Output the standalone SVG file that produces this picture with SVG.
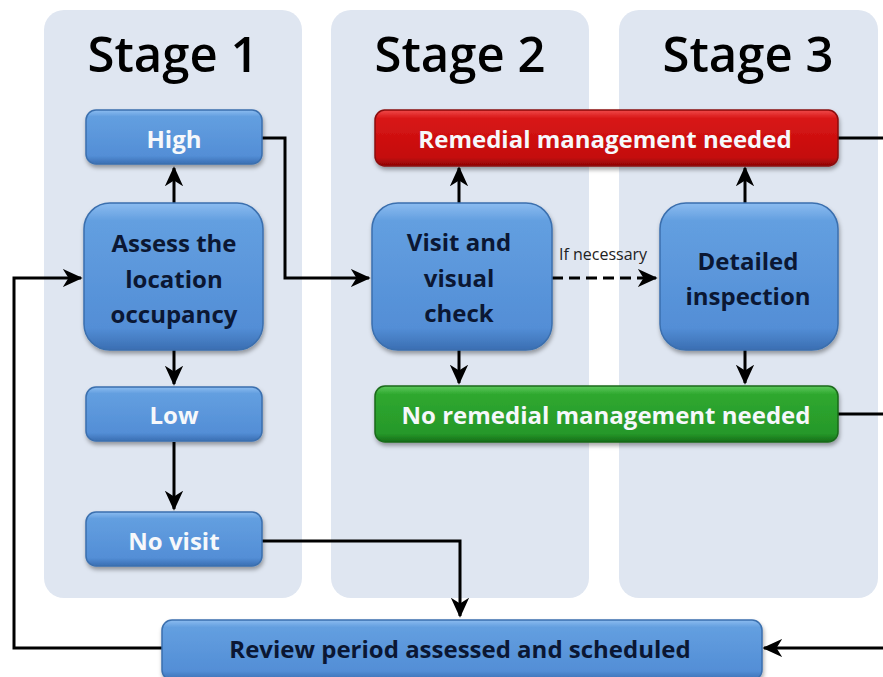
<svg xmlns="http://www.w3.org/2000/svg" width="883" height="677" viewBox="0 0 883 677">
<defs>
<linearGradient id="gBlue" x1="0" y1="0" x2="0" y2="1">
<stop offset="0" stop-color="#8cbcf0"/><stop offset="0.12" stop-color="#639fe0"/><stop offset="0.85" stop-color="#538ed6"/><stop offset="1" stop-color="#3a6eb2"/>
</linearGradient>
<linearGradient id="gRed" x1="0" y1="0" x2="0" y2="1">
<stop offset="0" stop-color="#f04a4a"/><stop offset="0.15" stop-color="#d81515"/><stop offset="0.85" stop-color="#c40c0c"/><stop offset="1" stop-color="#8e0404"/>
</linearGradient>
<linearGradient id="gGreen" x1="0" y1="0" x2="0" y2="1">
<stop offset="0" stop-color="#5cc95c"/><stop offset="0.15" stop-color="#2fa82f"/><stop offset="0.85" stop-color="#26982a"/><stop offset="1" stop-color="#166e18"/>
</linearGradient>
<filter id="sh" x="-10%" y="-10%" width="120%" height="130%">
<feDropShadow dx="1" dy="3" stdDeviation="2" flood-color="#000" flood-opacity="0.35"/>
</filter>
<marker id="a" viewBox="0 0 12 12" refX="11" refY="6" markerWidth="20" markerHeight="20" markerUnits="userSpaceOnUse" orient="auto">
<path d="M0,0.5 L12,6 L0,11.5 L3.5,6 Z" fill="#000"/>
</marker>
</defs>
<style>
.panel{fill:#dfe6f1}
.title{font-family:"Open Sans","Noto Sans",sans-serif;font-weight:600;font-size:49px;fill:#000;text-anchor:middle}
.blue{fill:url(#gBlue);stroke:#3b6fae;stroke-width:1.5;filter:url(#sh)}
.red{fill:url(#gRed);stroke:#8a0a0a;stroke-width:1.5;filter:url(#sh)}
.green{fill:url(#gGreen);stroke:#1a6a1a;stroke-width:1.5;filter:url(#sh)}
.lw{font-family:"Open Sans","Noto Sans",sans-serif;font-weight:bold;font-size:24px;fill:#f6f8fb;text-anchor:middle;dominant-baseline:central}
.ld{font-family:"Open Sans","Noto Sans",sans-serif;font-weight:bold;font-size:24px;fill:#0b1733;text-anchor:middle;dominant-baseline:central}
.small{font-family:"Open Sans","Noto Sans",sans-serif;font-size:16px;fill:#222;text-anchor:middle}
.c{fill:none;stroke:#000;stroke-width:3}
.dash{stroke-dasharray:11,6}
</style>
<rect width="883" height="677" fill="#fff"/>
<g id="panels">
<rect class="panel" x="44" y="10" width="258" height="588" rx="20"/>
<rect class="panel" x="331" y="10" width="258" height="588" rx="20"/>
<rect class="panel" x="619" y="10" width="259" height="588" rx="20"/>
<text class="title" x="173" y="72">Stage 1</text>
<text class="title" x="460" y="72">Stage 2</text>
<text class="title" x="748" y="72">Stage 3</text>
</g>
<g id="connectors">
<path class="c" d="M174,203 V168" marker-end="url(#a)"/>
<path class="c" d="M174,350 V384" marker-end="url(#a)"/>
<path class="c" d="M174,442 V509" marker-end="url(#a)"/>
<path class="c" d="M262,138 H285 V278 H369" marker-end="url(#a)"/>
<path class="c" d="M262,541 H460 V616" marker-end="url(#a)"/>
<path class="c" d="M162,648 H14 V278 H81" marker-end="url(#a)"/>
<path class="c" d="M459,203 V168" marker-end="url(#a)"/>
<path class="c" d="M459,350 V383" marker-end="url(#a)"/>
<path class="c dash" d="M552,278 H656" marker-end="url(#a)"/>
<path class="c" d="M745,203 V168" marker-end="url(#a)"/>
<path class="c" d="M745,350 V383" marker-end="url(#a)"/>
<path class="c" d="M838,138 H883"/>
<path class="c" d="M838,414 H883"/>
<path class="c" d="M883,648 H764" marker-end="url(#a)"/>
<text class="small" x="603" y="260">If necessary</text>
</g>
<g id="high"><rect class="blue" x="86" y="110" width="176" height="54" rx="10"/><text class="lw" x="174" y="138">High</text></g>
<g id="assess"><rect class="blue" x="84" y="203" width="179" height="147" rx="26"/>
<text class="ld" x="174" y="242">Assess the</text><text class="ld" x="174" y="278">location</text><text class="ld" x="174" y="313">occupancy</text></g>
<g id="low"><rect class="blue" x="86" y="387" width="176" height="54" rx="10"/><text class="lw" x="174" y="414">Low</text></g>
<g id="novisit"><rect class="blue" x="86" y="512" width="176" height="54" rx="10"/><text class="lw" x="174" y="540">No visit</text></g>
<g id="remedial"><rect class="red" x="375" y="110" width="463" height="56" rx="10"/><text class="lw" x="605" y="138">Remedial management needed</text></g>
<g id="visit"><rect class="blue" x="372" y="203" width="180" height="147" rx="26"/>
<text class="ld" x="459" y="241">Visit and</text><text class="ld" x="459" y="277">visual</text><text class="ld" x="459" y="312">check</text></g>
<g id="detailed"><rect class="blue" x="660" y="203" width="178" height="147" rx="26"/>
<text class="ld" x="748" y="260">Detailed</text><text class="ld" x="748" y="295">inspection</text></g>
<g id="noremedial"><rect class="green" x="375" y="386" width="463" height="56" rx="10"/><text class="lw" x="606" y="414">No remedial management needed</text></g>
<g id="review"><rect class="blue" x="162" y="620" width="600" height="60" rx="10"/><text class="ld" x="460" y="648">Review period assessed and scheduled</text></g>
</svg>
